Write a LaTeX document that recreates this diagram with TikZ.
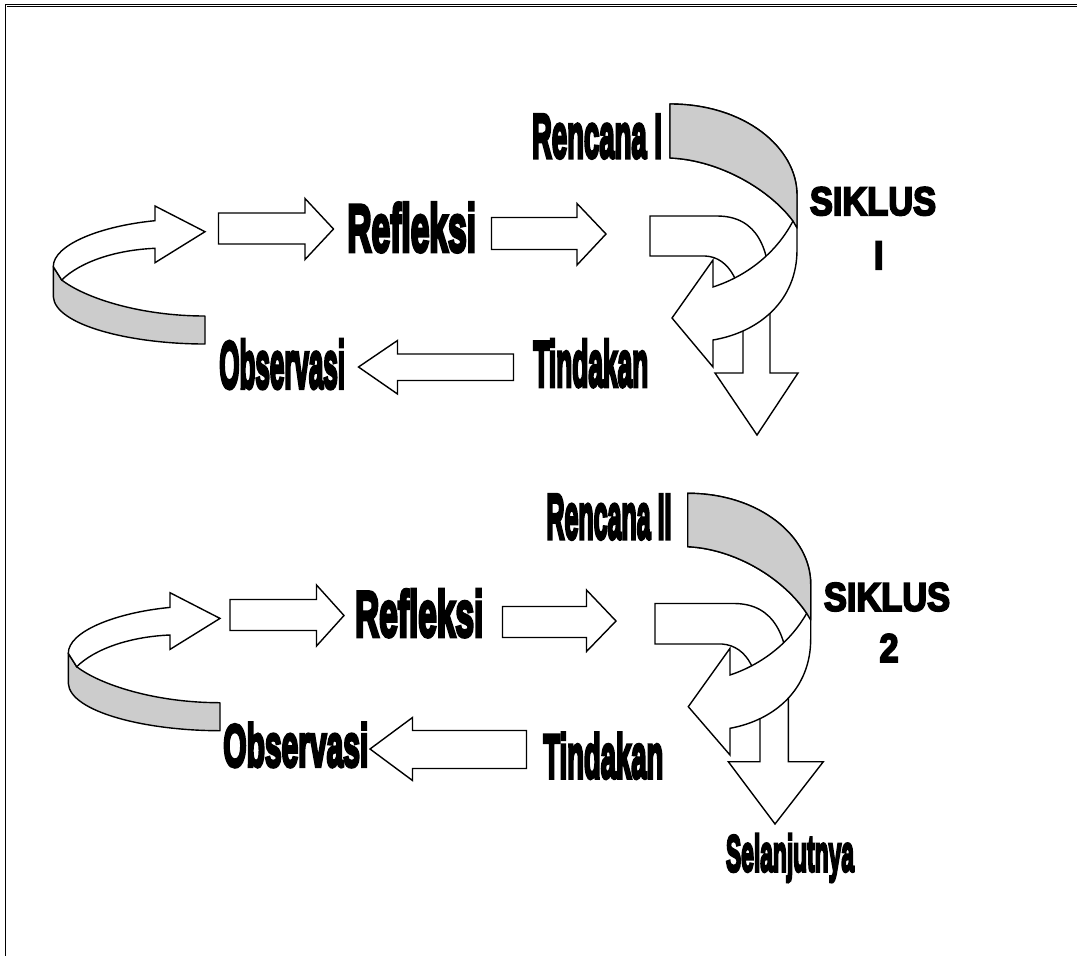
\documentclass[tikz,border=0pt]{standalone}
\usepackage{graphicx}
\usepackage{fontspec}
\newfontfamily\impactfont{Liberation Sans}[BoldFeatures={FakeBold=6}]
\newfontfamily\blackfont{Liberation Sans}[BoldFeatures={FakeBold=5}]
\definecolor{ribbongray}{RGB}{204,204,204}
\tikzset{
  blk/.style={draw=black, line width=1.4pt, fill=white, line join=miter},
  blkgray/.style={draw=black, line width=1.4pt, fill=ribbongray, line join=round},
  lbl/.style={inner sep=0pt, font=\impactfont\bfseries},
  siklus/.style={inner sep=0pt, font=\blackfont\bfseries\fontsize{40}{44}\selectfont},
  frameline/.style={draw=black, double=white, double distance=0.9pt, line width=0.6pt}
}
\begin{document}
\begin{tikzpicture}[x=1pt,y=-1pt]
\useasboundingbox (0,0) rectangle (1077,956);
% frame
\draw[frameline] (1077,5.5) -- (6,5.5) -- (6,956);

% ================= CYCLE I =================
% left curved ribbon
\begin{scope}
\path[blkgray] (53.3,266.7) -- (61.7,280) .. controls (85,298) and (140,316) .. (205,316) -- (205,344) .. controls (130,344) and (55,325) .. (53.3,296.7) -- cycle;
\path[blk] (155,206) -- (205,231.7) -- (155,262.7) -- (155,248.3) .. controls (115,250) and (80,262) .. (61.7,280) -- (53.3,266.7) .. controls (53,245) and (100,226) .. (155,220.7) -- cycle;
\end{scope}
% straight arrows
\path[blk] (218.5,213) -- (305,213) -- (305,198.5) -- (333.5,229) -- (305,259.5) -- (305,244) -- (218.5,244) -- cycle;
\path[blk] (491.5,217.5) -- (577,217.5) -- (577,203.5) -- (606,234) -- (577,265) -- (577,249.5) -- (491.5,249.5) -- cycle;
\path[blk] (513.5,354) -- (397.5,354) -- (397.5,340.5) -- (358.5,367) -- (397.5,394) -- (397.5,380.5) -- (513.5,380.5) -- cycle;
% bent down arrow
\path[blk] (650,216) -- (717,216) .. controls (758,216) and (770,250) .. (770,292) -- (770,373) -- (798,373) -- (757,435) -- (715,373) -- (743,373) -- (743,320) .. controls (743,285) and (730,257) .. (705,256) -- (650,256) -- cycle;
% big curved ribbon
\path[blk] (670,104) .. controls (745,104) and (797,148) .. (797,195) -- (797,250) .. controls (797,300) and (760,332) .. (713,340) -- (713,367) -- (672,318) -- (713,260) -- (713,287) .. controls (750,275) and (778,250) .. (793,221) .. controls (770,190) and (720,160) .. (670,158) -- cycle;
\path[blkgray] (670,104) .. controls (745,104) and (797,148) .. (797,195) -- (797,228) -- (793,221) .. controls (770,190) and (720,160) .. (670,158) -- cycle;

% labels
\node[lbl] (ref1) at (411.7,227.5) {\resizebox{128.7pt}{48.4pt}{Refleksi}};
\node[lbl] (obs1) at (282.2,364.2) {\resizebox{125.7pt}{48.3pt}{Observasi}};
\node[lbl] (tin1) at (590.8,363.3) {\resizebox{115pt}{46.7pt}{Tindakan}};
\node[lbl] (ren1) at (597,136.5) {\resizebox{130pt}{43pt}{Rencana I}};
\node[siklus] (sik1) at (873,201.3) {\scalebox{0.86}[1]{SIKLUS}};
\node[siklus] (num1) at (878.7,255.3) {\scalebox{0.86}[1]{I}};

% ================= CYCLE 2 =================
\begin{scope}[shift={(15,386.7)}]
\path[blkgray] (53.3,266.7) -- (61.7,280) .. controls (85,298) and (140,316) .. (205,316) -- (205,344) .. controls (130,344) and (55,325) .. (53.3,296.7) -- cycle;
\path[blk] (155,206) -- (205,231.7) -- (155,262.7) -- (155,248.3) .. controls (115,250) and (80,262) .. (61.7,280) -- (53.3,266.7) .. controls (53,245) and (100,226) .. (155,220.7) -- cycle;
\end{scope}
\path[blk] (230,599.5) -- (316.5,599.5) -- (316.5,585) -- (344,615.5) -- (316.5,646) -- (316.5,630.5) -- (230,630.5) -- cycle;
\path[blk] (502.5,606.5) -- (586.5,606.5) -- (586.5,590) -- (616,621) -- (586.5,651.5) -- (586.5,637.5) -- (502.5,637.5) -- cycle;
\path[blk] (526.5,730.5) -- (412.5,730.5) -- (412.5,717.5) -- (370,749) -- (412.5,780.5) -- (412.5,768.5) -- (526.5,768.5) -- cycle;
% bent down arrow
\path[blk] (655,603.5) -- (734,603.5) .. controls (775,603.5) and (788.3,638) .. (788.3,680) -- (788.3,761.7) -- (823.3,761.7) -- (775,824) -- (728.3,761.7) -- (760,761.7) -- (760,710) .. controls (760,673) and (748,646) .. (722,644) -- (655,644) -- cycle;
% big curved ribbon
\path[blk] (687.7,493.3) .. controls (760,493.3) and (810.7,537) .. (810.7,584) -- (810.7,639) .. controls (810.7,689) and (775,720) .. (730,728.3) -- (730,755) -- (688.3,706.7) -- (730,648.3) -- (730,675) .. controls (766,663) and (792,639) .. (806.7,613.3) .. controls (784,579) and (736,549) .. (687.7,546.7) -- cycle;
\path[blkgray] (687.7,493.3) .. controls (760,493.3) and (810.7,537) .. (810.7,584) -- (810.7,620) -- (806.7,613.3) .. controls (784,579) and (736,549) .. (687.7,546.7) -- cycle;

\node[lbl] (ref2) at (419.2,613.3) {\resizebox{128.3pt}{46.7pt}{Refleksi}};
\node[lbl] (obs2) at (295.8,745) {\resizebox{145pt}{43.4pt}{Observasi}};
\node[lbl] (tin2) at (603.3,755.8) {\resizebox{120pt}{45pt}{Tindakan}};
\node[lbl] (ren2) at (609,517) {\resizebox{125pt}{44pt}{Rencana II}};
\node[siklus] (sik2) at (887,597) {\scalebox{0.86}[1]{SIKLUS}};
\node[siklus] (num2) at (889,648) {\scalebox{0.86}[1]{2}};
\node[lbl] (sel) at (790,858) {\resizebox*{128pt}{48pt}{Selanjutnya}};
\end{tikzpicture}
\end{document}
